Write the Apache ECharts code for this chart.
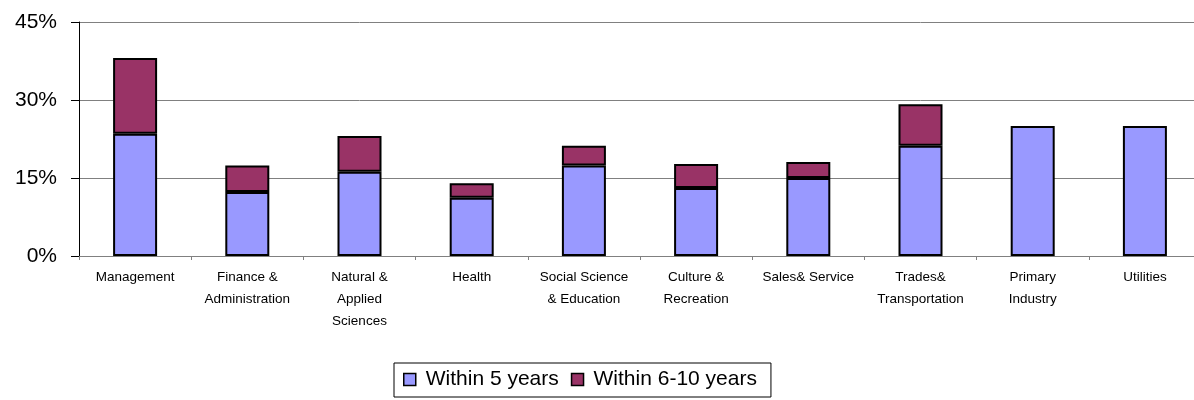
<!DOCTYPE html>
<html>
<head>
<meta charset="utf-8">
<script src="https://cdn.jsdelivr.net/npm/echarts@6/dist/echarts.min.js"></script>
<style>
  html, body { margin: 0; padding: 0; background: #fff; overflow: hidden; }
  /* canvas is a little wider than the window so the plot runs off the right edge */
  #chart { width: 1201px; height: 400px; }
</style>
</head>
<body>
<div id="chart"></div>
<script>
// Occupation groups (line breaks as shown under the axis)
const categories = [
  'Management',
  'Finance &\nAdministration',
  'Natural &\nApplied\nSciences',
  'Health',
  'Social Science\n& Education',
  'Culture &\nRecreation',
  'Sales& Service',
  'Trades&\nTransportation',
  'Primary\nIndustry',
  'Utilities'
];

// Share of workers (%) by time horizon
const within5 = [23.5, 12.3, 16.2, 11.2, 17.4, 13.1, 15.0, 21.2, 25.0, 25.0];
const within6to10 = [14.6, 5.1, 6.9, 2.8, 3.8, 4.6, 3.1, 8.0, '-', '-'];

// Value axis ticks
const yMin = 0;
const yMax = 45;
const yStep = 15;

const seriesNames = ['Within 5 years', 'Within 6-10 years'];
const colors = ['#9999FF', '#993366'];
const fontFamily = '"Liberation Sans", Arial, sans-serif';

const chart = echarts.init(document.getElementById('chart'), null, { renderer: 'canvas' });

chart.setOption({
  animation: false,
  textStyle: { fontFamily: fontFamily },
  grid: { left: 79, right: 0, top: 22, bottom: 144, containLabel: false },
  legend: {
    data: seriesNames,
    left: 394,
    top: 363,
    orient: 'horizontal',
    icon: 'rect',
    itemWidth: 12,
    itemHeight: 12,
    itemGap: 12,
    padding: [6, 14, 7, 9],
    borderColor: '#000',
    borderWidth: 1,
    itemStyle: { borderColor: '#000', borderWidth: 1.5 },
    textStyle: { fontSize: 21, color: '#000', fontFamily: fontFamily, padding: [0, 0, 0, 5] }
  },
  xAxis: {
    type: 'category',
    data: categories,
    axisLine: { show: true, lineStyle: { color: '#808080', width: 1 } },
    axisTick: { show: true, interval: 0, length: 4, lineStyle: { color: '#808080' } },
    axisLabel: {
      interval: 0,
      margin: 10,
      fontSize: 13.5,
      lineHeight: 22,
      color: '#000',
      fontFamily: fontFamily
    },
    splitLine: { show: false }
  },
  yAxis: {
    type: 'value',
    min: yMin,
    max: yMax,
    interval: yStep,
    axisLine: { show: true, lineStyle: { color: '#000', width: 1 } },
    axisTick: { show: true, length: 8, lineStyle: { color: '#000' } },
    axisLabel: {
      formatter: '{value}%',
      fontSize: 21,
      margin: 22,
      color: '#000',
      fontFamily: fontFamily
    },
    splitLine: { show: true, lineStyle: { color: '#808080', width: 1 } }
  },
  series: [
    {
      name: seriesNames[0],
      type: 'bar',
      stack: 'total',
      barWidth: 44,
      data: within5,
      itemStyle: { color: colors[0], borderColor: '#000', borderWidth: 2 }
    },
    {
      name: seriesNames[1],
      type: 'bar',
      stack: 'total',
      barWidth: 44,
      data: within6to10,
      itemStyle: { color: colors[1], borderColor: '#000', borderWidth: 2 }
    }
  ]
});
</script>
</body>
</html>
